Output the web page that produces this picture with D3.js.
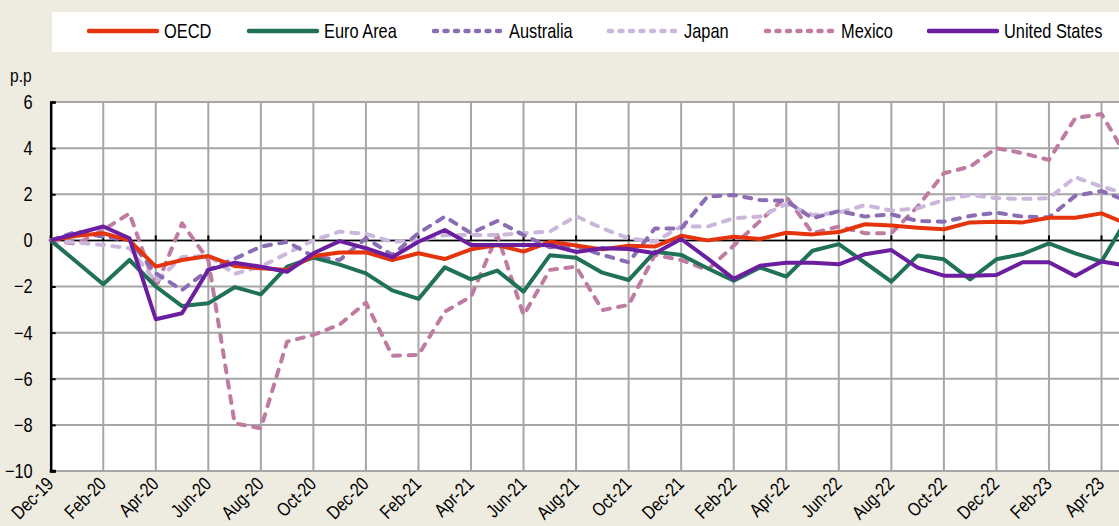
<!DOCTYPE html>
<html><head><meta charset="utf-8">
<script src="https://cdn.jsdelivr.net/npm/d3@7"></script>
<style>
body{margin:0;background:#eeebe1;overflow:hidden;}
svg{display:block;font-family:"Liberation Sans",Arial,sans-serif;}
</style>
</head><body>
<svg id="c" width="1119" height="526"></svg>
<script>
const months = ["Dec-19","Jan-20","Feb-20","Mar-20","Apr-20","May-20","Jun-20","Jul-20","Aug-20","Sep-20","Oct-20","Nov-20","Dec-20","Jan-21","Feb-21","Mar-21","Apr-21","May-21","Jun-21","Jul-21","Aug-21","Sep-21","Oct-21","Nov-21","Dec-21","Jan-22","Feb-22","Mar-22","Apr-22","May-22","Jun-22","Jul-22","Aug-22","Sep-22","Oct-22","Nov-22","Dec-22","Jan-23","Feb-23","Mar-23","Apr-23","May-23"];
const oecd = [0,0.2,0.31,0,-1.14,-0.85,-0.68,-1.11,-1.21,-1.28,-0.68,-0.53,-0.52,-0.85,-0.56,-0.81,-0.39,-0.2,-0.49,-0.06,-0.22,-0.39,-0.23,-0.27,0.2,0,0.16,0.06,0.33,0.26,0.36,0.7,0.64,0.55,0.48,0.78,0.81,0.78,0.98,0.98,1.17,0.7];
const euroArea = [0,-0.95,-1.9,-0.85,-2.0,-2.85,-2.73,-2.03,-2.34,-1.14,-0.75,-1.05,-1.43,-2.17,-2.54,-1.17,-1.69,-1.31,-2.22,-0.65,-0.75,-1.4,-1.72,-0.49,-0.63,-1.21,-1.75,-1.17,-1.57,-0.45,-0.16,-0.97,-1.79,-0.66,-0.82,-1.69,-0.82,-0.59,-0.13,-0.56,-0.92,1.0];
const australia = [0,0.38,0.16,0,-1.43,-2.15,-1.28,-0.8,-0.27,-0.06,-0.7,-0.85,0.09,-0.63,0.31,1.03,0.31,0.84,0.23,-0.3,-0.24,-0.63,-0.95,0.52,0.52,1.9,1.97,1.75,1.71,0.96,1.27,1.03,1.13,0.84,0.81,1.06,1.2,1.03,1.0,1.93,2.14,1.7];
const japan = [0,-0.1,-0.2,-0.34,-1.79,-0.72,-0.68,-1.45,-1.14,-0.56,0,0.38,0.28,-0.06,0,0.23,0.23,0.23,0.31,0.38,1.05,0.52,0.09,-0.06,0.6,0.6,0.96,1.03,1.58,1.1,1.2,1.53,1.29,1.39,1.75,1.97,1.83,1.8,1.83,2.74,2.33,2.0];
const mexico = [0,-0.15,0.45,1.17,-2.05,0.74,-0.85,-7.93,-8.15,-4.39,-4.1,-3.65,-2.7,-5.0,-4.97,-3.09,-2.44,0.23,-3.24,-1.28,-1.14,-3.02,-2.8,-0.63,-0.85,-1.28,-0.23,0.84,1.9,0.31,0.6,0.31,0.31,1.46,2.91,3.2,4.0,3.78,3.49,5.3,5.48,3.55];
const unitedStates = [0,0.3,0.6,0.09,-3.42,-3.16,-1.28,-0.97,-1.14,-1.36,-0.56,-0.03,-0.34,-0.73,-0.06,0.45,-0.2,-0.2,-0.2,-0.2,-0.5,-0.34,-0.37,-0.56,0.06,-0.78,-1.67,-1.1,-0.97,-0.97,-1.04,-0.6,-0.42,-1.18,-1.53,-1.53,-1.5,-0.95,-0.95,-1.54,-0.92,-1.1];
const yTicks = [-10,-8,-6,-4,-2,0,2,4,6];

const series = [
  {name:"OECD", values:oecd, color:"#e5330c", dash:null},
  {name:"Euro Area", values:euroArea, color:"#1f7158", dash:null},
  {name:"Australia", values:australia, color:"#8a6db5", dash:true},
  {name:"Japan", values:japan, color:"#cbb6dc", dash:true},
  {name:"Mexico", values:mexico, color:"#c07ba2", dash:true},
  {name:"United States", values:unitedStates, color:"#6b1fa0", dash:null}
];

const NARROW = 0.82;
const svg = d3.select("#c");
const x0 = 50.7, step = 26.27;
const x = d3.scalePoint().domain(months).range([x0, x0 + step*(months.length-1)]);
const y = d3.scaleLinear().domain([-10,6]).range([471,102]);

svg.append("rect").attr("x",x0).attr("y",y(6)).attr("width",1119-x0).attr("height",y(-10)-y(6)).attr("fill","#fff");

const tickMonths = months.filter((m,i)=>i%2===0);
svg.append("g").selectAll("line").data(yTicks).join("line")
  .attr("x1",x0).attr("x2",1119).attr("y1",d=>y(d)).attr("y2",d=>y(d))
  .attr("stroke","#a6a6a6").attr("stroke-width",2);
svg.append("g").selectAll("line").data(tickMonths.slice(1)).join("line")
  .attr("x1",d=>x(d)).attr("x2",d=>x(d)).attr("y1",y(6)).attr("y2",y(-10))
  .attr("stroke","#a6a6a6").attr("stroke-width",2);

svg.append("line").attr("x1",x0).attr("x2",1119).attr("y1",y(0)).attr("y2",y(0)).attr("stroke","#000").attr("stroke-width",1.5);
svg.append("g").selectAll("line").data(tickMonths).join("line")
  .attr("x1",d=>x(d)).attr("x2",d=>x(d)).attr("y1",y(0)-5).attr("y2",y(0))
  .attr("stroke","#000").attr("stroke-width",2);

const yAxis = d3.axisLeft(y).tickValues(yTicks).tickSize(-5).tickPadding(0).tickFormat(d3.format("d"));
const gy = svg.append("g").attr("transform",`translate(${x0},0)`).call(yAxis);
gy.select(".domain").attr("stroke","#000").attr("stroke-width",2.5);
gy.selectAll(".tick line").attr("stroke","#000").attr("stroke-width",2);
gy.selectAll(".tick text").attr("font-size",20).attr("fill","#000").attr("font-family",null)
  .attr("x",0).attr("transform",`translate(-18,0) scale(${NARROW},1)`);
svg.append("line").attr("x1",x0-1).attr("x2",x0+5).attr("y1",y(-10)).attr("y2",y(-10)).attr("stroke","#000").attr("stroke-width",2.5);

svg.append("g").selectAll("text").data(tickMonths).join("text")
  .attr("transform",d=>`translate(${x(d)+4},${485}) rotate(-45) scale(${NARROW},1)`)
  .attr("text-anchor","end").attr("font-size",19).attr("fill","#000")
  .text(d=>d);

svg.append("text").attr("transform",`translate(10,82) scale(${NARROW},1)`).attr("font-size",19).attr("fill","#000").text("p.p");

const line = d3.line().x((d,i)=>x(months[i])).y(d=>y(d));
const drawOrder = ["Mexico","Japan","Australia","Euro Area","OECD","United States"];
drawOrder.forEach(n=>{
  const s = series.find(s=>s.name===n);
  svg.append("path").datum(s.values).attr("d",line)
    .attr("fill","none").attr("stroke",s.color).attr("stroke-width",4)
    .attr("stroke-linejoin","round")
    .attr("stroke-linecap",s.dash?"round":"butt")
    .attr("stroke-dasharray",s.dash?"7,8.5":null);
});

svg.append("rect").attr("x",52).attr("y",12).attr("width",1100).attr("height",40).attr("fill","#fff");
const legX = [89,249,434,609,766,929];
const lg = svg.append("g").selectAll("g").data(series).join("g")
  .attr("transform",(d,i)=>`translate(${legX[i]},31)`);
lg.append("line").attr("x1",0).attr("x2",68).attr("y1",0).attr("y2",0)
  .attr("stroke",d=>d.color).attr("stroke-width",4.5).attr("stroke-linecap","round")
  .attr("stroke-dasharray",d=>d.dash?"3,7.5":null);
lg.append("text").attr("transform",`translate(75,0) scale(${NARROW},1)`).attr("dy","0.36em").attr("font-size",20).attr("fill","#000").text(d=>d.name);
</script>
</body></html>
